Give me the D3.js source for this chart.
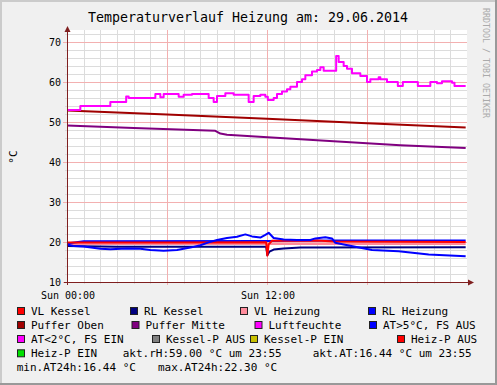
<!DOCTYPE html>
<html>
<head>
<meta charset="utf-8">
<script src="https://cdn.jsdelivr.net/npm/d3@7"></script>
<style>
  body { margin: 0; background: #fff; }
  svg { display: block; }
  text { font-family: "DejaVu Sans Mono", monospace; }
</style>
</head>
<body>
<script>
// values, time in hours since Sun 00:00
var titleText = "Temperaturverlauf Heizung am: 29.06.2014";
var yTicks = [10, 20, 30, 40, 50, 60, 70];
var xTickHours = [0, 12];
var xTickLabels = ["Sun 00:00", "Sun 12:00"];

var vlKessel = [[0,19.9],[6,19.9],[11.95,19.95],[12.02,16.6],[12.1,19.4],[12.3,20.3],[15,20.4],[16,20.1],[23.92,20.0]];
var rlKessel = [[0,19.0],[3,18.8],[11.95,18.8],[12.02,16.7],[12.15,17.6],[12.4,18.1],[13,18.4],[14,18.6],[23.92,18.7]];
var vlHeizung = [[0,19.5],[12,19.5],[23.92,19.5]];
var rlHeizung = [[0,19.6],[1,20.2],[12,20.25],[16,20.35],[23.92,20.4]];
var pufferOben = [[0,52.9],[6,51.9],[12,50.8],[18,49.7],[23.92,48.6]];
var pufferMitte = [[0,49.1],[4,48.5],[8.9,47.8],[9.2,47.1],[9.6,46.8],[11.3,46.4],[16,45.2],[20,44.2],[23.92,43.5]];
var luftfeuchte = [[0,53],[0.8,54],[2.6,55],[3.55,56.4],[3.7,56],[5.3,57],[5.6,56.2],[5.8,57],[6.7,56.3],[7.0,56.8],
  [7.5,57],[8.5,56],[8.8,55],[9.0,56.5],[9.5,57.2],[10.0,56.8],[10.9,55],[11.2,56.5],[11.6,56.8],[11.9,56.3],
  [12.05,55.5],[12.4,56],[12.6,57],[12.9,57.6],[13.2,58.2],[13.4,58.8],[13.8,60],[14.1,60.7],[14.3,61.7],[14.7,62.6],
  [15.0,63],[15.2,63.7],[15.4,62.8],[16.1,62.8],[16.15,66.5],[16.3,65],[16.6,64],[16.8,63.3],[17.1,62.2],[17.6,61.5],
  [18.0,60],[18.2,60.7],[18.7,61.2],[18.8,60.7],[19.2,60],[19.85,59],[20.15,60],[21.05,59],[21.8,60],[22.2,59.7],
  [22.5,60.2],[23.1,59.8],[23.25,59],[23.92,59]];
var aussen = [[0,19.4],[0.4,19.0],[1.0,18.9],[2.0,18.3],[2.6,18.2],[3.6,18.4],[4.4,18.3],[5.0,18.0],[5.8,17.8],[6.6,18.0],
  [7.4,18.6],[8.0,19.2],[8.5,19.9],[9.0,20.5],[9.6,21.0],[10.2,21.3],[10.7,21.9],[11.1,21.4],[11.6,21.1],[11.9,21.8],
  [12.1,22.3],[12.4,21.0],[13.0,20.6],[13.8,20.5],[14.6,20.5],[14.9,20.9],[15.5,21.2],[15.9,20.9],[16.1,19.8],[16.6,19.4],
  [17.3,18.8],[18.3,18.0],[19.9,17.7],[21.7,16.9],[23.92,16.44]];

var legendLabels = ["VL Kessel","RL Kessel","VL Heizung","RL Heizung",
  "Puffer Oben","Puffer Mitte","Luftfeuchte","AT>5°C, FS AUS",
  "AT<2°C, FS EIN","Kessel-P AUS","Kessel-P EIN","Heiz-P AUS","Heiz-P EIN"];
var legendColors = ["#ff0000","#000080","#ff8c9c","#0000ff",
  "#a00000","#800080","#ff00ff","#0000ff",
  "#ff00ff","#808080","#c8c000","#ff0000","#00e000"];

var W = 497, H = 385;
var svg = d3.select("body").append("svg").attr("width", W).attr("height", H);

// background + rrdtool shading
svg.append("rect").attr("width", W).attr("height", H).attr("fill", "#f0f0f0");
svg.append("rect").attr("x", 0).attr("y", 0).attr("width", W).attr("height", 2).attr("fill", "#cbcbcb");
svg.append("rect").attr("x", 0).attr("y", 0).attr("width", 2).attr("height", H).attr("fill", "#cbcbcb");
svg.append("rect").attr("x", 0).attr("y", H - 2).attr("width", W).attr("height", 2).attr("fill", "#999");
svg.append("rect").attr("x", W - 2).attr("y", 0).attr("width", 2).attr("height", H).attr("fill", "#999");

var x = d3.scaleLinear().domain([0, 24]).range([67, 467]);
var y = d3.scaleLinear().domain([10, 73]).range([282, 30]);

svg.append("rect").attr("x", 67).attr("y", 30).attr("width", 400).attr("height", 252).attr("fill", "#fff");

// grid
var grid = svg.append("g").attr("shape-rendering", "crispEdges");
d3.range(10, 73, 2).filter(function(v) { return v % 10 != 0; }).forEach(function(v) {
  grid.append("line").attr("x1", 64.5).attr("x2", 467).attr("y1", Math.round(y(v)) + 0.5).attr("y2", Math.round(y(v)) + 0.5)
    .attr("stroke", "#dcdcdc");
});
d3.range(1, 24).filter(function(h) { return h % 6 != 0; }).forEach(function(h) {
  grid.append("line").attr("y1", 30).attr("y2", 284).attr("x1", Math.round(x(h)) + 0.5).attr("x2", Math.round(x(h)) + 0.5)
    .attr("stroke", "#dcdcdc");
});
yTicks.forEach(function(v) {
  grid.append("line").attr("x1", 63).attr("x2", 467).attr("y1", Math.round(y(v)) + 0.5).attr("y2", Math.round(y(v)) + 0.5)
    .attr("stroke", "#f3b0b0");
});
[6, 12, 18].forEach(function(h) {
  grid.append("line").attr("y1", 30).attr("y2", 285).attr("x1", Math.round(x(h)) + 0.5).attr("x2", Math.round(x(h)) + 0.5)
    .attr("stroke", "#f3b0b0");
});

// series
var line = d3.line().x(function(d) { return x(d[0]); }).y(function(d) { return y(d[1]); });
var stepLine = d3.line().x(function(d) { return x(d[0]); }).y(function(d) { return y(d[1]); }).curve(d3.curveStepAfter);

var series = [
  [rlKessel, legendColors[1], line],
  [vlHeizung, legendColors[2], line],
  [rlHeizung, legendColors[3], line],
  [vlKessel, legendColors[0], line],
  [pufferOben, legendColors[4], line],
  [pufferMitte, legendColors[5], line],
  [luftfeuchte, legendColors[6], stepLine],
  [aussen, legendColors[7], line]
];
series.forEach(function(s) {
  svg.append("path").attr("d", s[2](s[0])).attr("fill", "none").attr("stroke", s[1])
    .attr("stroke-width", 2).attr("stroke-linejoin", "round");
});

// axes
var axisCol = "#7f1f1f";
svg.append("line").attr("x1", 67.5).attr("x2", 67.5).attr("y1", 285).attr("y2", 30).attr("stroke", axisCol);
svg.append("line").attr("x1", 64).attr("x2", 470).attr("y1", 282.5).attr("y2", 282.5).attr("stroke", axisCol);
svg.append("path").attr("d", "M64.5,32L67.5,26L70.5,32Z").attr("fill", axisCol);
svg.append("path").attr("d", "M468,279.5L474,282.5L468,285.5Z").attr("fill", axisCol);

svg.selectAll(".ylab").data(yTicks).enter().append("text")
  .attr("x", 61).attr("y", function(d) { return y(d) + 3.5; })
  .attr("text-anchor", "end").attr("font-size", "10px").text(function(d) { return d; });
svg.selectAll(".xlab").data(xTickHours).enter().append("text")
  .attr("x", function(d) { return x(d) + 1; }).attr("y", 299)
  .attr("text-anchor", "middle").attr("font-size", "10px").text(function(d, i) { return xTickLabels[i]; });

// titles
svg.append("text").attr("x", 248).attr("y", 21.5).attr("text-anchor", "middle").attr("font-size", "13.3px").text(titleText);
svg.append("text").attr("transform", "translate(17,157) rotate(-90)").attr("text-anchor", "middle")
  .attr("font-size", "11px").text("°C");
svg.append("text").attr("transform", "translate(483,8) rotate(90)").attr("font-size", "8.3px")
  .attr("fill", "#aaa").text("RRDTOOL / TOBI OETIKER");

// legend
var rowY = [315, 329, 343, 357.3, 371.3];
var legendLayout = [[0,17],[0,130],[0,240],[0,368],
  [1,17],[1,131.5],[1,254.5],[1,369],
  [2,17],[2,152],[2,250],[2,397],
  [3,17]];
var lg = svg.append("g");
legendLabels.forEach(function(lab, i) {
  var r = legendLayout[i][0], lx = legendLayout[i][1];
  lg.append("rect").attr("x", lx + 0.5).attr("y", rowY[r] - 7.5).attr("width", 7).attr("height", 7)
    .attr("fill", legendColors[i]).attr("stroke", "#222").attr("stroke-width", 1);
  lg.append("text").attr("x", lx + 14).attr("y", rowY[r]).attr("font-size", "11px").text(lab);
});

var last = function(a) { return a[a.length - 1][1]; };
var atVals = aussen.map(function(d) { return d[1]; });
var gprints = [
  [3, 122.7, "akt.rH:" + last(luftfeuchte).toFixed(2) + " °C um 23:55"],
  [3, 312.7, "akt.AT:" + last(aussen).toFixed(2) + " °C um 23:55"],
  [4, 16.7, "min.AT24h:" + d3.min(atVals).toFixed(2) + " °C"],
  [4, 158, "max.AT24h:" + d3.max(atVals).toFixed(2) + " °C"]
];
gprints.forEach(function(g) {
  lg.append("text").attr("x", g[1]).attr("y", rowY[g[0]]).attr("font-size", "11px").text(g[2]);
});
</script>
</body>
</html>
